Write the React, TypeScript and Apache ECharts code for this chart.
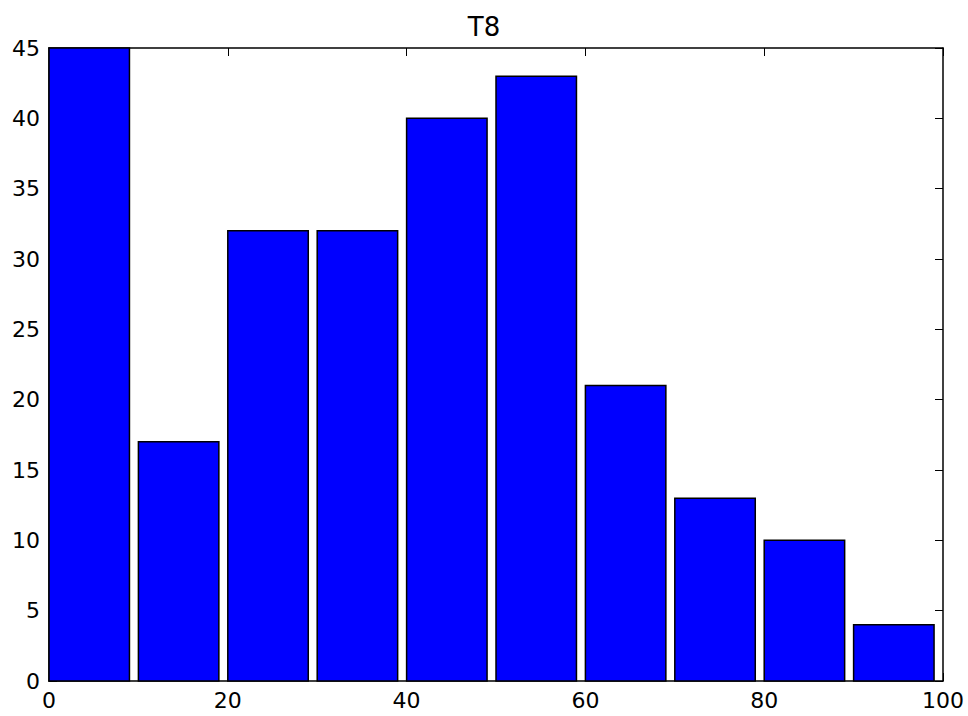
import React, { useEffect, useRef } from "react";
import * as echarts from "echarts";

const title = "T8";
const binStarts = [0, 10, 20, 30, 40, 50, 60, 70, 80, 90];
const binEnds = [9, 19, 29, 39, 49, 59, 69, 79, 89, 99];
const counts = [45, 17, 32, 32, 40, 43, 21, 13, 10, 4];

const FONT = "DejaVu Sans";

export default function App() {
  const ref = useRef<HTMLDivElement>(null);
  useEffect(() => {
    if (!ref.current) return;
    const chart = echarts.init(ref.current, null, { renderer: "svg" });
    const data = binStarts.map((s, i) => [s, binEnds[i], counts[i]]);
    const axisCommon = {
      axisLine: { show: true, onZero: false, lineStyle: { color: "#000", width: 1.5 } },
      axisTick: { show: true, inside: true, length: 8, lineStyle: { color: "#000", width: 1 } },
      splitLine: { show: false },
    };
    chart.setOption({
      animation: false,
      backgroundColor: "#fff",
      title: {
        text: title,
        left: "center",
        top: 9,
        textStyle: { fontFamily: FONT, fontSize: 26, fontWeight: "normal", color: "#000" },
      },
      grid: { left: 49, right: 25, top: 48, bottom: 35, containLabel: false },
      xAxis: [
        {
          type: "value", min: 0, max: 100, interval: 20, position: "bottom",
          ...axisCommon,
          axisLabel: { fontFamily: FONT, fontSize: 22, color: "#000", margin: 8 },
        },
        {
          type: "value", min: 0, max: 100, interval: 20, position: "top",
          ...axisCommon,
          axisLabel: { show: false },
        },
      ],
      yAxis: [
        {
          type: "value", min: 0, max: 45, interval: 5, position: "left",
          ...axisCommon,
          axisLabel: { fontFamily: FONT, fontSize: 22, color: "#000", margin: 9 },
        },
        {
          type: "value", min: 0, max: 45, interval: 5, position: "right",
          ...axisCommon,
          axisLabel: { show: false },
        },
      ],
      series: [
        {
          type: "custom",
          xAxisIndex: 0,
          yAxisIndex: 0,
          encode: { x: [0, 1], y: 2 },
          data,
          renderItem: (params: any, api: any) => {
            const p0 = api.coord([api.value(0), api.value(2)]);
            const p1 = api.coord([api.value(1), 0]);
            return {
              type: "rect",
              shape: { x: p0[0], y: p0[1], width: p1[0] - p0[0], height: p1[1] - p0[1] },
              style: { fill: "#0000ff", stroke: "#000", lineWidth: 1.5 },
            };
          },
        },
      ],
    });
    return () => chart.dispose();
  }, []);
  return (
    <div
      ref={ref}
      style={{ position: "absolute", left: 0, top: 0, width: 968, height: 716 }}
    />
  );
}
